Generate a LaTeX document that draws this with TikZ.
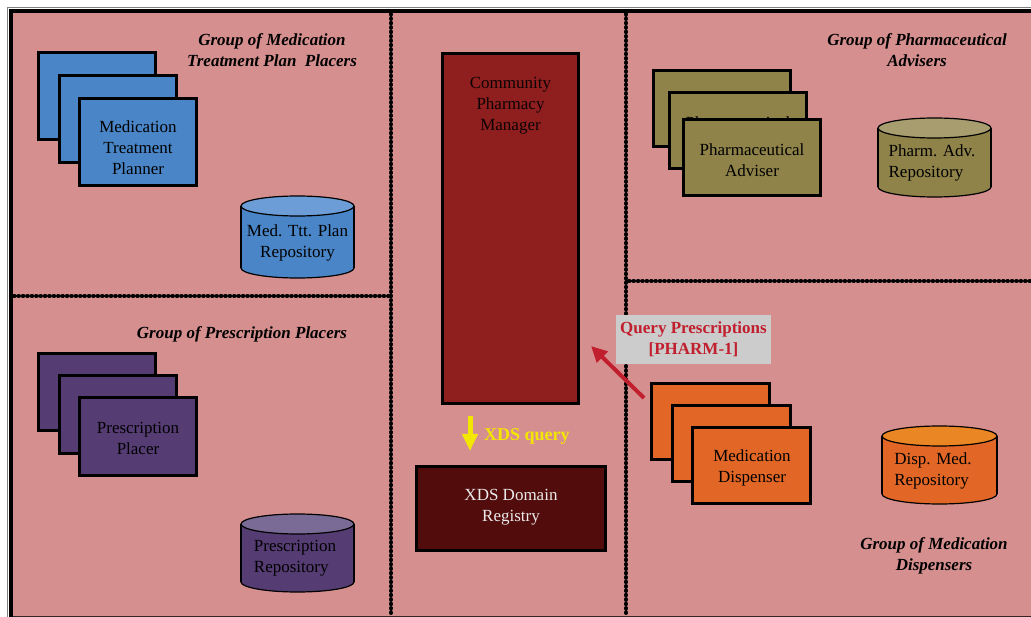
\documentclass[tikz,border=0pt]{standalone}
\usepackage{fontspec}
\setmainfont{Liberation Serif}
\usetikzlibrary{arrows.meta}
\definecolor{bgpink}{RGB}{214,143,143}
\definecolor{mblue}{RGB}{74,134,199}
\definecolor{mbluetop}{RGB}{108,157,214}
\definecolor{mpurple}{RGB}{85,60,115}
\definecolor{mpurpletop}{RGB}{122,106,150}
\definecolor{molive}{RGB}{143,131,73}
\definecolor{molivetop}{RGB}{168,157,110}
\definecolor{morange}{RGB}{226,103,38}
\definecolor{morangetop}{RGB}{235,134,36}
\definecolor{cpmred}{RGB}{143,30,31}
\definecolor{xdsdark}{RGB}{82,12,12}
\definecolor{qred}{RGB}{193,31,46}
\definecolor{qgray}{RGB}{204,204,204}
\definecolor{xyellow}{RGB}{243,230,0}
\tikzset{
  stackbox/.style={draw=black, line width=3pt, inner sep=0pt, minimum width=117pt, minimum height=87pt},
  boxtext/.style={font=\fontsize{17}{21}\selectfont, align=center, text=black, inner sep=0pt},
  grouptitle/.style={font=\fontsize{17}{21}\selectfont\bfseries\itshape, align=center, inner sep=0pt},
  divider/.style={line width=4pt, dash pattern=on 0.6pt off 3.8pt, line cap=round},
  cylline/.style={draw=black, line width=1.2pt}
}
\newcommand{\drawcyl}[6]{%
  \pgfmathsetmacro\cylcx{(#1+#2)/2}%
  \pgfmathsetmacro\cylrx{(#2-#1)/2}%
  \pgfmathsetmacro\cylt{#3+10}%
  \pgfmathsetmacro\cylb{#4-10}%
  \filldraw[fill=#5, cylline] (\cylcx,\cylb) ellipse[x radius=\cylrx pt, y radius=10pt];
  \fill[#5] (#1,\cylt) rectangle (#2,\cylb);
  \draw[cylline] (#1,\cylt) -- (#1,\cylb) (#2,\cylt) -- (#2,\cylb);
  \filldraw[fill=#6, cylline] (\cylcx,\cylt) ellipse[x radius=\cylrx pt, y radius=10pt];
}
\begin{document}
\begin{tikzpicture}[x=1pt, y=-1pt]
\useasboundingbox (0,0) rectangle (1031,617);
% background frame
\fill[bgpink] (11,11) rectangle (1031,616);
\draw[gray, line width=0.8pt] (7.6,617) -- (7.6,7.6) -- (1031,7.6);
\draw[black!75!bgpink, line width=1pt] (11,616.3) -- (1031,616.3);
\draw[line width=4.2pt] (9,11) -- (1031,11);
\draw[line width=4.2pt] (11,9) -- (11,617);
% dividers
\draw[divider] (391,14) -- (391,615);
\draw[divider] (626,14) -- (626,615);
\draw[divider] (14,296) -- (389,296);
\draw[divider] (629,281) -- (1031,281);

% Group of Medication Treatment Plan Placers
\node[grouptitle] (t1) at (272,50) {Group of Medication\\Treatment Plan~ Placers};
\node[stackbox, fill=mblue] (mtp1) at (97,96.5) {};
\node[stackbox, fill=mblue] (mtp2) at (118,119) {};
\node[stackbox, fill=mblue] (mtp3) at (138,142) {};
\node[boxtext] (mtpt) at (138,148) {Medication\\Treatment\\Planner};
\drawcyl{241}{354}{196}{278}{mblue}{mbluetop}
\node[boxtext] (mtpr) at (297.5,242.5) {Med. Ttt. Plan\\Repository};

% Group of Prescription Placers
\node[grouptitle] (t2) at (242,334.5) {Group of Prescription Placers};
\node[stackbox, fill=mpurple, minimum height=77pt] (pp1) at (97,392) {};
\node[stackbox, fill=mpurple, minimum height=77pt] (pp2) at (117.5,414.5) {};
\node[stackbox, fill=mpurple, minimum height=77pt] (pp3) at (138,436.5) {};
\node[boxtext] (ppt) at (138,438) {Prescription\\Placer};
\drawcyl{241}{354}{514}{592}{mpurple}{mpurpletop}
\node[boxtext, align=left] (ppr) at (295,558) {Prescription\\Repository};

% Community Pharmacy Manager
\node[draw=black, line width=3pt, fill=cpmred, minimum width=136pt, minimum height=350pt, inner sep=0pt] (cpm) at (510.5,228.5) {};
\node[boxtext, text=black!90!cpmred] (cpmt) at (510.5,106) {Community\\Pharmacy\\Manager};
% XDS Domain Registry
\node[draw=black, line width=3pt, fill=xdsdark, minimum width=189pt, minimum height=84pt, inner sep=0pt] (xds) at (511,508.5) {};
\node[boxtext, text=white!92!black] (xdst) at (511,507.5) {XDS Domain\\Registry};
% XDS query arrow
\coordinate (ya) at (470,416);
\coordinate (yb) at (470,451);
\draw[xyellow, line width=5pt, -{Triangle[length=17pt, width=15pt]}] (ya) -- (yb);
\node[font=\fontsize{18}{21}\selectfont\bfseries, text=xyellow, anchor=west, inner sep=0pt] (xq) at (484,436.5) {XDS query};

% Group of Pharmaceutical Advisers
\node[grouptitle] (t3) at (917,50) {Group of Pharmaceutical\\Advisers};
\node[stackbox, fill=molive, minimum width=137pt, minimum height=76pt] (pa1) at (722,108.5) {};
\node[stackbox, fill=molive, minimum width=137pt, minimum height=76pt] (pa2) at (738,131) {};
\node[boxtext] (pa2t) at (738,133) {Pharmaceutical\\Adviser};
\node[stackbox, fill=molive, minimum width=137pt, minimum height=76pt] (pa3) at (752,157.5) {};
\node[boxtext] (pat) at (752,160) {Pharmaceutical\\Adviser};
\drawcyl{878}{991}{118}{197}{molive}{molivetop}
\node[boxtext, align=left] (par) at (932,163) {Pharm. Adv.\\Repository};

% Group of Medication Dispensers
\node[stackbox, fill=morange, minimum width=118pt, minimum height=76pt] (md1) at (710.5,421.5) {};
\node[stackbox, fill=morange, minimum width=118pt, minimum height=76pt] (md2) at (731,443.5) {};
\node[stackbox, fill=morange, minimum width=118pt, minimum height=76pt] (md3) at (751.5,465.5) {};
\node[boxtext] (mdt) at (752,468) {Medication\\Dispenser};
\drawcyl{882}{997}{426}{504}{morange}{morangetop}
\node[boxtext, align=left] (mdr) at (933,471) {Disp. Med.\\Repository};
\node[grouptitle] (t4) at (934,556) {Group of Medication\\Dispensers};

% Query Prescriptions
\coordinate (qa) at (644,398);
\coordinate (qb) at (591,346);
\draw[qred, line width=4pt, -{Triangle[length=16pt, width=15pt]}] (qa) -- (qb);
\node[fill=qgray, minimum width=155pt, minimum height=49pt, inner sep=0pt, font=\fontsize{17}{21}\selectfont\bfseries, text=qred, align=center] (qp) at (693.5,339.5) {Query Prescriptions\\{[PHARM-1]}};
\end{tikzpicture}
\end{document}
